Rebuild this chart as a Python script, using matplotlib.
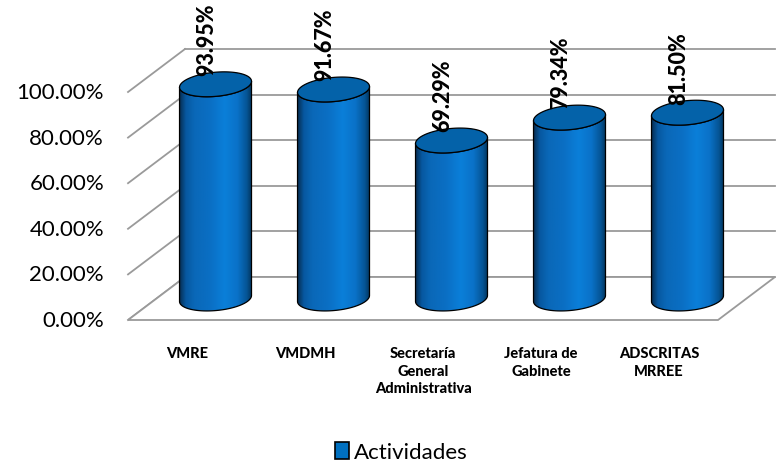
import numpy as np
import matplotlib
matplotlib.use("Agg")
import matplotlib.pyplot as plt
from matplotlib.patches import Polygon, Patch
from matplotlib.colors import LinearSegmentedColormap

categories = ["VMRE", "VMDMH", "Secretaría\nGeneral\nAdministrativa",
              "Jefatura de\nGabinete", "ADSCRITAS\nMRREE"]
values = [93.95, 91.67, 69.29, 79.34, 81.50]
labels = ["93.95%", "91.67%", "69.29%", "79.34%", "81.50%"]
yticks = [0, 20, 40, 60, 80, 100]
ytick_labels = ["0.00%", "20.00%", "40.00%", "60.00%", "80.00%", "100.00%"]
series_name = "Actividades"

plt.rcParams["font.family"] = ["Lato", "DejaVu Sans"]

# fake 3d: depth shift of back wall, in data units
DX = 0.483
DY = 18.86
# cylinder half width and ellipse half height (data units)
RA = 0.305
RB = 5.3
TILT = 4.3

grid_c = "#9a9a9a"
cmap = LinearSegmentedColormap.from_list(
    "cyl", [(0.0, "#06325a"), (0.08, "#0758a0"), (0.2, "#0a68b8"), (0.42, "#0a6fc4"),
            (0.62, "#0b7fd9"), (0.8, "#0a72c8"), (0.93, "#055596"), (1.0, "#03365f")])

fig = plt.figure(figsize=(7.76, 4.64), dpi=100)
ax = fig.add_axes([0, 0, 1, 1])
ax.set_autoscale_on(False)
ax.set_xlim(-1.585, 4.9915)
ax.set_ylim(-62.72, 140.79)
ax.axis("off")

n = len(categories)
x0, x1 = -0.5, n - 0.5

# back wall + left wall gridlines
for v in yticks:
    ax.plot([x0 + DX, x1 + DX], [v + DY, v + DY], color=grid_c, lw=1.3, zorder=1)
    ax.plot([x0, x0 + DX], [v, v + DY], color=grid_c, lw=1.3, zorder=1)

# floor
floor = Polygon([(x0, 0), (x1, 0), (x1 + DX, DY), (x0 + DX, DY)],
                closed=True, facecolor="white", edgecolor=grid_c, lw=1.3, zorder=1.5)
ax.add_patch(floor)


def ellipse(cx, cy, t):
    return cx + RA * np.cos(t), cy + RB * np.sin(t) + TILT * RA * np.cos(t)


for i, v in enumerate(values):
    cx = i + DX / 2
    base = DY / 2
    top = base + v
    z = 3 + i

    tb = np.linspace(np.pi, 2 * np.pi, 60)
    bx, by = ellipse(cx, base, tb)
    tt = np.linspace(2 * np.pi, np.pi, 60)
    tx, ty = ellipse(cx, top, tt)
    body = Polygon(np.column_stack([np.r_[bx, tx], np.r_[by, ty]]), closed=True,
                   facecolor="none", edgecolor="black", lw=0.9, zorder=z + 0.2)
    ax.add_patch(body)
    grad = np.linspace(0, 1, 200).reshape(1, -1)
    im = ax.imshow(grad, cmap=cmap, aspect="auto", zorder=z,
                   extent=[cx - RA, cx + RA, base - RB - 4, top + RB + 4])
    im.set_clip_path(body)

    ta = np.linspace(0, 2 * np.pi, 120)
    ex, ey = ellipse(cx, top, ta)
    cap = Polygon(np.column_stack([ex, ey]), closed=True, facecolor="#0462a9",
                  edgecolor="black", lw=0.9, zorder=z + 0.3)
    ax.add_patch(cap)

    ax.text(cx - 0.076, top + RB - 1.3, labels[i], rotation=90, ha="center",
            va="bottom", fontsize=15.5, fontweight="black", color="black", zorder=20)

# y tick labels on the front-left edge
for v, lab in zip(yticks, ytick_labels):
    ax.text(x0 - 0.203, v, lab, ha="right", va="center", fontsize=16, color="black")

# category labels
for i, c in enumerate(categories):
    ax.text(i, -11.5, c, ha="center", va="top", fontsize=10.5, fontweight="black",
            linespacing=1.3, color="black")

fig.legend(handles=[Patch(facecolor="#0070c0", edgecolor="black", lw=1.2)],
           labels=[series_name], loc="center", bbox_to_anchor=(401 / 776, 11 / 464),
           frameon=False, fontsize=16, handlelength=0.65, handleheight=0.8,
           handletextpad=0.2, borderpad=0)

fig.savefig("out.png", dpi=100)
